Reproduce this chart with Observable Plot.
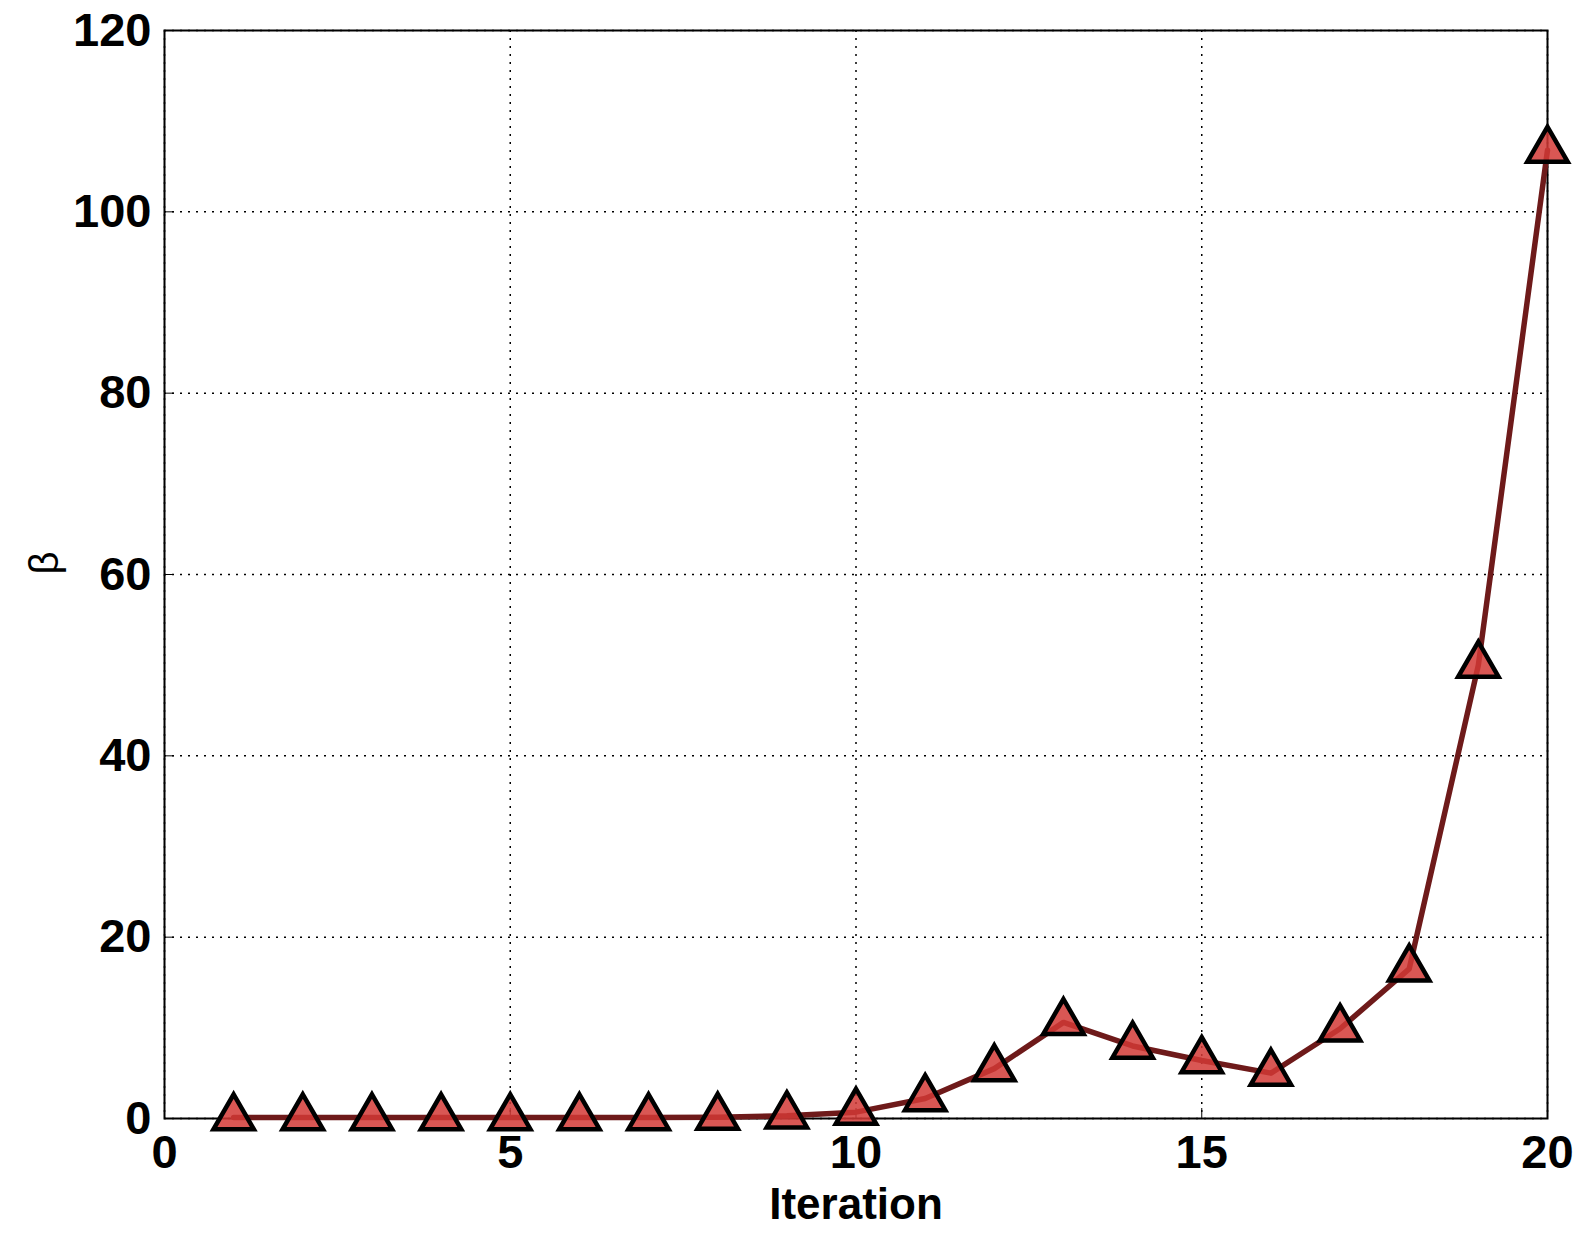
<!DOCTYPE html>
<html>
<head>
<meta charset="utf-8">
<script src="https://cdn.jsdelivr.net/npm/d3@7"></script>
<script src="https://cdn.jsdelivr.net/npm/@observablehq/plot@0.6"></script>
<style>
  html, body { margin: 0; padding: 0; background: #fff; }
  #chart svg { display: block; }
</style>
</head>
<body>
<div id="chart"></div>
<script>
const iterations = [1,2,3,4,5,6,7,8,9,10,11,12,13,14,15,16,17,18,19,20];
const beta = [0.1,0.1,0.1,0.1,0.1,0.1,0.1,0.15,0.3,0.7,2.2,5.5,10.6,8.0,6.4,5.0,9.9,16.5,50.0,106.8];
const xTicks = [0,5,10,15,20];
const yTicks = [0,20,40,60,80,100,120];
const xLabel = "Iteration";
const yLabel = "β";

const data = iterations.map((it, i) => ({it, b: beta[i]}));

const chart = Plot.plot({
  width: 1581,
  height: 1234,
  marginLeft: 164,
  marginRight: 34,
  marginTop: 30,
  marginBottom: 116,
  style: {fontFamily: "'Liberation Sans', Arial, sans-serif", fontWeight: "bold", fontSize: "47px", color: "#000", background: "#fff"},
  x: {domain: [0, 20]},
  y: {domain: [0, 120]},
  marks: [
    Plot.gridX(xTicks, {stroke: "#000", strokeOpacity: 1, strokeWidth: 1.5, strokeDasharray: "2,6"}),
    Plot.gridY(yTicks, {stroke: "#000", strokeOpacity: 1, strokeWidth: 1.5, strokeDasharray: "2,6"}),
    Plot.frame({stroke: "#000", strokeWidth: 2}),
    Plot.axisX(xTicks, {tickSize: -10, tickPadding: 26, tickFormat: d => String(d), label: null, fontSize: 47, fontWeight: "bold"}),
    Plot.axisY(yTicks, {tickSize: -10, tickPadding: 23, tickFormat: d => String(d), label: null, fontSize: 47, fontWeight: "bold"}),
    Plot.line(data, {x: "it", y: "b", stroke: "#6e1a1a", strokeWidth: 5.5}),
    Plot.dot(data, {x: "it", y: "b", symbol: "triangle", r: 15, fill: "#d23a36", fillOpacity: 0.85, stroke: "#000", strokeWidth: 4.5}),
    Plot.text([xLabel], {frameAnchor: "bottom", dy: 86, fontSize: 44, fontWeight: "bold", lineAnchor: "middle"}),
    Plot.text([yLabel], {frameAnchor: "left", dx: -119, rotate: -90, fontSize: 40, fontWeight: "normal", lineAnchor: "middle"})
  ]
});
document.getElementById("chart").appendChild(chart);
</script>
</body>
</html>
